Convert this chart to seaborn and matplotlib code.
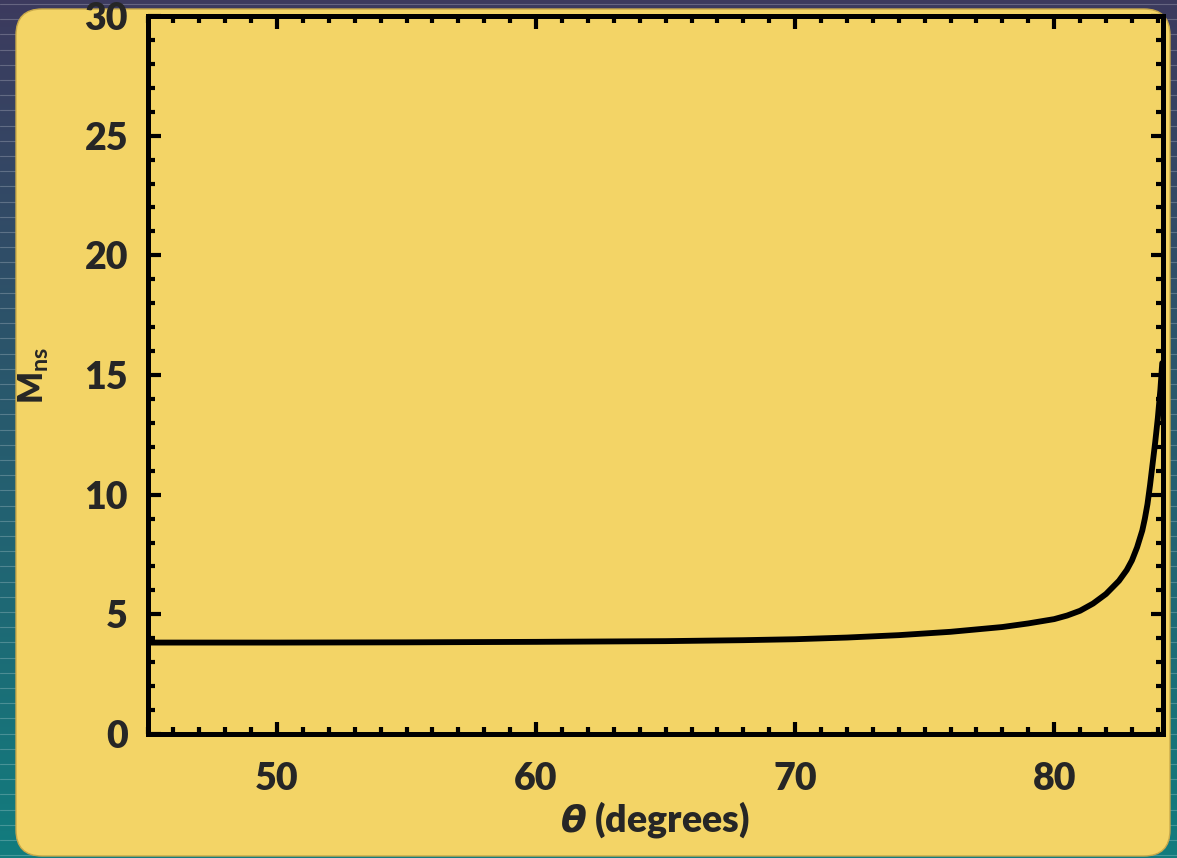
import numpy as np
import matplotlib
matplotlib.use("Agg")
import matplotlib.pyplot as plt
from matplotlib.patches import FancyBboxPatch
from matplotlib.ticker import MultipleLocator
import seaborn as sns

# Neutron-star Mach number versus angle
theta = [45.0, 50.0, 55.0, 60.0, 65.0, 68.0, 70.0, 72.0, 74.0, 76.0, 78.0,
         79.0, 80.0, 80.5, 81.0, 81.5, 82.0, 82.5, 82.8, 83.0, 83.2, 83.4,
         83.5, 83.6, 83.7, 83.8, 83.9, 84.0, 84.1, 84.17]
mns = [3.82, 3.82, 3.83, 3.85, 3.88, 3.92, 3.96, 4.03, 4.13, 4.27, 4.47,
       4.62, 4.80, 4.95, 5.15, 5.45, 5.85, 6.40, 6.85, 7.25, 7.80, 8.50,
       9.00, 9.60, 10.40, 11.30, 12.20, 13.20, 14.40, 15.50]

xticks = [50, 60, 70, 80]
yticks = [0, 5, 10, 15, 20, 25, 30]

sns.set_style("ticks")
plt.rcParams["font.family"] = ["Lato", "DejaVu Sans"]
plt.rcParams["mathtext.fontset"] = "custom"
plt.rcParams["mathtext.it"] = "DejaVu Sans:italic:bold"
plt.rcParams["mathtext.rm"] = "Lato:bold"

W, H = 1177, 858
fig = plt.figure(figsize=(W / 100, H / 100), dpi=100)

# slide background: dark purple-to-teal gradient with faint rules
bg = fig.add_axes([0, 0, 1, 1], zorder=0)
bg.set_axis_off()
grad = np.linspace(0, 1, 256)[:, None]
top_c = np.array([60, 58, 94]) / 255
bot_c = np.array([18, 124, 126]) / 255
img = top_c[None, None, :] * (1 - grad[..., None]) + bot_c[None, None, :] * grad[..., None]
img = np.repeat(img, 2, axis=1)
bg.imshow(img, extent=[0, W, H, 0], aspect="auto", origin="upper", zorder=0)
for yy in np.arange(4, H, 15.2):
    bg.plot([0, W], [yy, yy], color="white", lw=0.8, alpha=0.22, zorder=1)
bg.set_xlim(0, W)
bg.set_ylim(H, 0)

# yellow panel
panel = FancyBboxPatch((16, 9), 1154, 847, boxstyle="round,pad=0,rounding_size=26",
                       facecolor="#f3d466", edgecolor="#c9a94a", lw=1.0, zorder=3)
bg.add_patch(panel)

left, right = 147.5 / W, 1163 / W
bottom, top = 1 - 734 / H, 1 - 16 / H
ax = fig.add_axes([left, bottom, right - left, top - bottom], zorder=1)
ax.set_facecolor("none")

sns.lineplot(x=theta, y=mns, ax=ax, color="black", lw=4.2, sort=False)

ax.set_xlim(45, 84.2)
ax.set_ylim(0, 30)
ax.set_xticks(xticks)
ax.set_yticks(yticks)
ax.xaxis.set_minor_locator(MultipleLocator(1))
ax.yaxis.set_minor_locator(MultipleLocator(1))

for s in ax.spines.values():
    s.set_visible(True)
    s.set_linewidth(3.6)
    s.set_color("black")

ax.tick_params(which="both", direction="in", top=True, right=True, color="black")
ax.tick_params(which="major", length=9, width=3, labelsize=27, pad=14)
ax.tick_params(which="minor", length=5, width=3)
ax.tick_params(axis="x", which="major", pad=20)
for lab in ax.get_xticklabels() + ax.get_yticklabels():
    lab.set_fontweight("heavy")

ax.set_xlabel(r"$\theta$ (degrees)", fontsize=27, fontweight="heavy", labelpad=2)
ax.set_ylabel(r"M$_\mathrm{ns}$", fontsize=24, fontweight="heavy", labelpad=24)

fig.savefig("out.png", dpi=100)
